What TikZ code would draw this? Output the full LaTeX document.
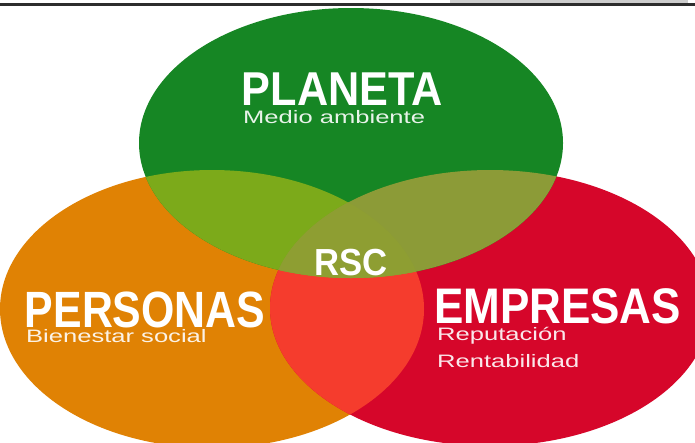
\documentclass[tikz,border=0pt]{standalone}
\usepackage{fontspec}
\setmainfont{Liberation Sans}
\newfontfamily\lblfont{Liberation Sans}
\definecolor{cgreen}{RGB}{22,134,36}
\definecolor{corange}{RGB}{224,130,4}
\definecolor{cred}{RGB}{214,6,42}
\definecolor{cgo}{RGB}{124,170,26}
\definecolor{cgr}{RGB}{140,155,55}
\definecolor{cor}{RGB}{245,60,45}
\definecolor{cmid}{RGB}{142,158,50}
\definecolor{ctopline}{RGB}{45,45,45}
\definecolor{ctopgray}{RGB}{205,205,205}
\tikzset{
  mainlbl/.style={anchor=base west, inner sep=0pt, text=white, font=\lblfont\bfseries},
  sublbl/.style={anchor=base west, inner sep=0pt, text=white, text opacity=0.9, font=\lblfont\fontsize{18}{20}\selectfont}
}
\begin{document}
\begin{tikzpicture}[x=1pt,y=-1pt]
\useasboundingbox (0,0) rectangle (695,442);
\fill[white] (0,0) rectangle (695,442);
\begin{scope}
\clip (0,0) rectangle (695,442);
% base circles
\fill[corange] (212,309) ellipse [x radius=212, y radius=139];
\fill[cred] (490,308) ellipse [x radius=220, y radius=138];
\fill[cgreen] (351,143) ellipse [x radius=212, y radius=135];
% orange & red
\begin{scope}
  \clip (212,309) ellipse [x radius=212, y radius=139];
  \fill[cor] (490,308) ellipse [x radius=220, y radius=138];
\end{scope}
% green overlaps
\begin{scope}
  \clip (351,143) ellipse [x radius=212, y radius=135];
  \fill[cgo] (212,309) ellipse [x radius=212, y radius=139];
  \fill[cgr] (490,308) ellipse [x radius=220, y radius=138];
  \clip (212,309) ellipse [x radius=212, y radius=139];
  \fill[cmid] (490,308) ellipse [x radius=220, y radius=138];
\end{scope}
% top strip
\fill[ctopgray] (450,0) rectangle (688,2.6);
\fill[ctopline] (0,3.2) rectangle (695,6.2);
\end{scope}
% labels
\node[mainlbl] (planeta) at (241.7,105) {\fontsize{47.5}{50}\selectfont\scalebox{0.91}[1]{PLANETA}};
\node[sublbl] (medio) at (243,123) {\scalebox{1.42}[1]{Medio ambiente}};
\node[mainlbl] (rsc) at (314.5,275) {\fontsize{37.7}{40}\selectfont\scalebox{0.92}[1]{RSC}};
\node[mainlbl] (personas) at (24.7,327) {\fontsize{51}{54}\selectfont\scalebox{0.84}[1]{PERSONAS}};
\node[sublbl] (bienestar) at (26,342) {\scalebox{1.42}[1]{Bienestar social}};
\node[mainlbl] (empresas) at (433.8,323) {\fontsize{50}{54}\selectfont\scalebox{0.88}[1]{EMPRESAS}};
\node[sublbl] (reputacion) at (437,340) {\scalebox{1.42}[1]{Reputación}};
\node[sublbl] (rentab) at (437,367) {\scalebox{1.42}[1]{Rentabilidad}};
\end{tikzpicture}
\end{document}
